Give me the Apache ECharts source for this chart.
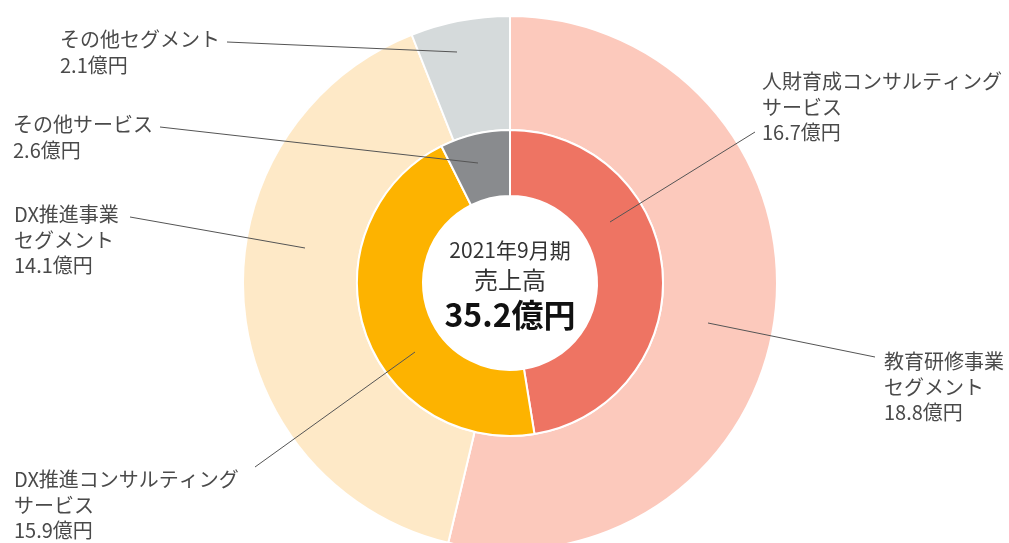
<!DOCTYPE html>
<html>
<head>
<meta charset="utf-8">
<script src="https://cdn.jsdelivr.net/npm/echarts@6/dist/echarts.min.js"></script>
<style>
html, body { margin: 0; padding: 0; background: #fff; }
#main { width: 1009px; height: 543px; }
</style>
</head>
<body>
<div id="main"></div>
<script>
// outer ring: segments
var outerNames = ['教育研修事業\nセグメント', 'DX推進事業\nセグメント', 'その他セグメント'];
var outerValues = [18.8, 14.1, 2.1];
// inner ring: services
var innerNames = ['人財育成コンサルティング\nサービス', 'DX推進コンサルティング\nサービス', 'その他サービス'];
var innerValues = [16.7, 15.9, 2.6];
// center caption
var centerLines = ['2021年9月期', '売上高', '35.2億円'];

var outerColors = ['#fcc9bc', '#fee9c7', '#d5dadb'];
var innerColors = ['#ee7463', '#fdb300', '#898b8e'];

// label placement (top-left of text block) and leader lines
var outerLabelBox = [[884, 349], [14, 202], [60, 27]];
var outerLineFrom = [[708, 323], [305, 248], [457, 52]];
var outerLineTo = [[875, 357], [130, 217], [227, 42]];
var innerLabelBox = [[762, 69], [14, 467], [13, 112]];
var innerLineFrom = [[610, 222], [415, 352], [478, 163]];
var innerLineTo = [[755, 132], [255, 467], [160, 127]];

var dom = document.getElementById('main');
var myChart = echarts.init(dom, null, { renderer: 'canvas' });

var FONT = '"Noto Sans CJK JP", "Noto Sans", sans-serif';
var CENTER = [510, 283];
var OUTER_R = [153, 267];
var INNER_R = [87, 153];

function toData(names, values, colors) {
    return names.map(function (n, i) {
        return { name: n, value: values[i], itemStyle: { color: colors ? colors[i] : 'rgba(0,0,0,0)' } };
    });
}

var labelStyle = {
    show: true,
    position: 'outside',
    color: '#4a4a4a',
    fontSize: 20,
    lineHeight: 25.5,
    fontFamily: FONT,
    formatter: function (p) {
        return p.name + '\n' + p.value.toFixed(1) + '億円';
    }
};
var lineStyle = { show: true, showAbove: true, lineStyle: { color: '#555', width: 1 } };

function layoutFor(box, from, to) {
    return function (p) {
        var i = p.dataIndex;
        return {
            x: box[i][0],
            y: box[i][1],
            align: 'left',
            verticalAlign: 'top',
            labelLinePoints: [from[i], to[i]]
        };
    };
}

function ring(name, radius, names, values, colors) {
    return {
        name: name,
        type: 'pie',
        z: 2,
        center: CENTER,
        radius: radius,
        startAngle: 90,
        clockwise: true,
        silent: true,
        emphasis: { disabled: true },
        itemStyle: { borderColor: '#fff', borderWidth: 2 },
        label: { show: false },
        labelLine: { show: false },
        data: toData(names, values, colors)
    };
}

// transparent copies on top that only carry labels and leader lines
function labelRing(name, radius, names, values, box, from, to) {
    return {
        name: name,
        type: 'pie',
        z: 5,
        center: CENTER,
        radius: radius,
        startAngle: 90,
        clockwise: true,
        silent: true,
        avoidLabelOverlap: false,
        emphasis: { disabled: true },
        label: labelStyle,
        labelLine: lineStyle,
        labelLayout: layoutFor(box, from, to),
        data: toData(names, values, null)
    };
}

var option = {
    animation: false,
    backgroundColor: '#fff',
    graphic: [
        { type: 'text', x: 510, y: 250, style: { text: centerLines[0], font: '21px ' + FONT, fill: '#333', align: 'center', verticalAlign: 'middle' } },
        { type: 'text', x: 510, y: 280, style: { text: centerLines[1], font: '24px ' + FONT, fill: '#333', align: 'center', verticalAlign: 'middle' } },
        { type: 'text', x: 510, y: 315, style: { text: centerLines[2], font: 'bold 32px ' + FONT, fill: '#111', align: 'center', verticalAlign: 'middle' } }
    ],
    series: [
        ring('outer', OUTER_R, outerNames, outerValues, outerColors),
        ring('inner', INNER_R, innerNames, innerValues, innerColors),
        labelRing('outerLabel', OUTER_R, outerNames, outerValues, outerLabelBox, outerLineFrom, outerLineTo),
        labelRing('innerLabel', INNER_R, innerNames, innerValues, innerLabelBox, innerLineFrom, innerLineTo)
    ]
};

if (option && typeof option === 'object') {
    myChart.setOption(option, true);
}
</script>
</body>
</html>
